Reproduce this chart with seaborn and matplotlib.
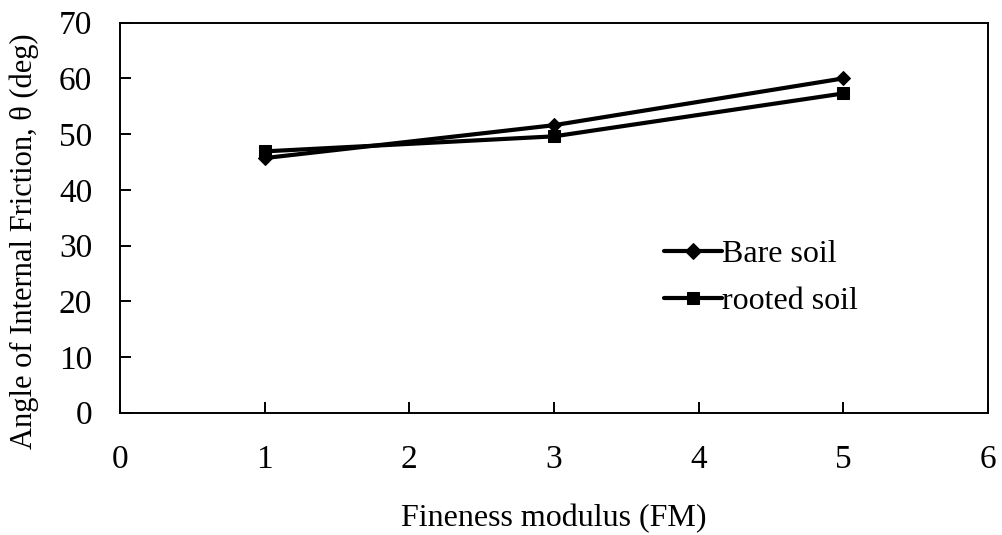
import matplotlib
matplotlib.use("Agg")
import matplotlib.pyplot as plt
import seaborn as sns
import pandas as pd

fm = [1, 3, 5]
bare_soil = [45.7, 51.6, 60.0]
rooted_soil = [46.9, 49.6, 57.3]
series_names = ["Bare soil", "rooted soil"]

sns.set_theme(style="white")
plt.rcParams['font.family'] = ['Liberation Serif', 'DejaVu Serif']

fig = plt.figure(figsize=(10.02, 5.35), dpi=100)
ax = fig.add_axes([0.1198, 0.2286, 0.8662, 0.7290])

df = pd.DataFrame({"FM": fm * 2,
                   "theta": bare_soil + rooted_soil,
                   "series": [series_names[0]] * 3 + [series_names[1]] * 3})

sns.lineplot(data=df, x="FM", y="theta", hue="series", style="series",
             markers={"Bare soil": "D", "rooted soil": "s"}, dashes=False,
             palette={"Bare soil": "black", "rooted soil": "black"},
             linewidth=3, markersize=8, markeredgecolor="black", ax=ax)
for ln, ms in zip(ax.lines[:2], [7.5, 8.5]):
    ln.set_markersize(ms)

ax.set_xlim(0, 6)
ax.set_ylim(0, 70)
ax.set_xticks(range(0, 7))
ax.set_yticks(range(0, 71, 10))
for s in ax.spines.values():
    s.set_color("black")
    s.set_linewidth(1.4)
ax.tick_params(axis="both", direction="in", length=8, width=1.4, color="black",
               labelsize=24, labelcolor="black", bottom=True, left=True, pad=20)
ax.tick_params(axis="x", pad=23)
ax.set_xlabel("Fineness modulus (FM)", fontsize=23, color="black", labelpad=21)
ax.set_ylabel("Angle of Internal Friction, θ (deg)", fontsize=22, color="black")
ax.yaxis.set_label_coords(-0.093, 0.44)

leg = ax.legend(loc="center left", bbox_to_anchor=(0.594, 0.345), frameon=False,
                fontsize=23, handlelength=1.8, handletextpad=0.0, labelspacing=0.55,
                labelcolor="black")

fig.savefig("out.png", dpi=100)
